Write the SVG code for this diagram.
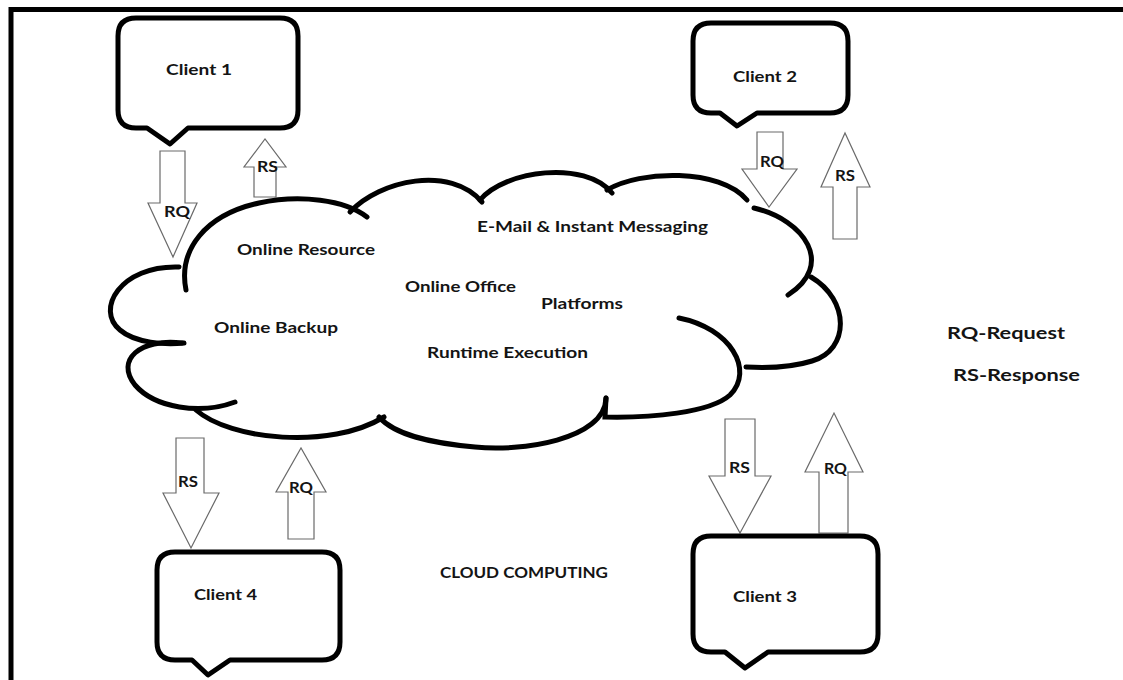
<svg xmlns="http://www.w3.org/2000/svg" width="1123" height="680" viewBox="0 0 1123 680">
<style>
.bg{fill:#fff}
.frame{stroke:#000;stroke-width:5;fill:none}
.callout{fill:#fff;stroke:#000;stroke-width:5;stroke-linejoin:round}
.arrow{fill:#fff;stroke:#6a6a6a;stroke-width:1.2;stroke-linejoin:miter}
.cloud{fill:none;stroke:#000;stroke-width:5;stroke-linecap:round}
text{font-family:Lato,"Liberation Sans",sans-serif;font-weight:bold;fill:#141414}
.t{font-size:16px}
.c{font-size:15px}
.a{font-size:15px}
.l{font-size:17px}
</style>
<rect class="bg" x="0" y="0" width="1123" height="680"/>
<g id="frame">
<line class="frame" x1="11" y1="9.5" x2="1123" y2="9.5"/>
<line class="frame" x1="11" y1="7" x2="11" y2="680"/>
</g>
<g id="connectors">
<g id="c1-rq"><path class="arrow" d="M160,151 H185 V203 H197 L173,257 L148,203 H160 Z"/><text class="a" x="164" y="217" textLength="26" lengthAdjust="spacingAndGlyphs">RQ</text></g>
<g id="c1-rs"><path class="arrow" d="M254,197 V167 H244 L265,139 L286,167 H276 V197 Z"/><text class="a" x="257" y="172" textLength="21" lengthAdjust="spacingAndGlyphs">RS</text></g>
<g id="c2-rq"><path class="arrow" d="M757,132 H783 V169 H797 L769,207 L742,169 H757 Z"/><text class="a" x="760" y="167" textLength="24" lengthAdjust="spacingAndGlyphs">RQ</text></g>
<g id="c2-rs"><path class="arrow" d="M833,239 V187 H821 L845,133 L870,187 H857 V239 Z"/><text class="a" x="835" y="181" textLength="20" lengthAdjust="spacingAndGlyphs">RS</text></g>
<g id="c4-rs"><path class="arrow" d="M176,438 H204 V493 H219 L191,548 L163,493 H176 Z"/><text class="a" x="178" y="487" textLength="20" lengthAdjust="spacingAndGlyphs">RS</text></g>
<g id="c4-rq"><path class="arrow" d="M288,539 V492 H276 L301,448 L326,492 H314 V539 Z"/><text class="a" x="289" y="493" textLength="24" lengthAdjust="spacingAndGlyphs">RQ</text></g>
<g id="c3-rs"><path class="arrow" d="M725,419 H755 V476 H771 L740,533 L709,476 H725 Z"/><text class="a" x="729" y="473" textLength="21" lengthAdjust="spacingAndGlyphs">RS</text></g>
<g id="c3-rq"><path class="arrow" d="M819,533 V472 H805 L834,413 L863,472 H848 V533 Z"/><text class="a" x="824" y="474" textLength="23" lengthAdjust="spacingAndGlyphs">RQ</text></g>
</g>
<g id="cloud">
<path class="cloud" d="M186,290 C178,250 205,215 259,203 C300,194 345,200 367,217"/>
<path class="cloud" d="M350,212 C380,180 450,165 482,202"/>
<path class="cloud" d="M480,200 C505,170 585,160 612,193"/>
<path class="cloud" d="M607,190 C640,170 720,168 747,200"/>
<path class="cloud" d="M754,208 C805,220 835,265 788,295"/>
<path class="cloud" d="M811,277 C850,300 850,350 812,361 C790,368 765,368 746,367"/>
<path class="cloud" d="M679,318 C730,328 755,370 730,395 C710,413 650,418 605,417 L606,398"/>
<path class="cloud" d="M606,398 C605,440 520,452 475,447 C430,443 395,435 379,417"/>
<path class="cloud" d="M196,410 C230,440 330,450 384,417"/>
<path class="cloud" d="M182,343 C140,338 115,360 135,385 C155,408 200,415 235,402"/>
<path class="cloud" d="M179,267 C120,265 95,310 120,330 C135,343 165,345 184,343"/>
<text class="c" x="477" y="232" textLength="231" lengthAdjust="spacingAndGlyphs">E-Mail &amp; Instant Messaging</text>
<text class="c" x="237" y="255" textLength="138" lengthAdjust="spacingAndGlyphs">Online Resource</text>
<text class="c" x="405" y="292" textLength="111" lengthAdjust="spacingAndGlyphs">Online Office</text>
<text class="c" x="541" y="309" textLength="82" lengthAdjust="spacingAndGlyphs">Platforms</text>
<text class="c" x="214" y="333" textLength="124" lengthAdjust="spacingAndGlyphs">Online Backup</text>
<text class="c" x="427" y="358" textLength="161" lengthAdjust="spacingAndGlyphs">Runtime Execution</text>
</g>
<g id="client1">
<path class="callout" d="M136,18 H280 Q298,18 298,36 V110 Q298,128 280,128 H188 L170,144 L147,128 H136 Q118,128 118,110 V36 Q118,18 136,18 Z"/>
<text class="t" x="166" y="75" textLength="66" lengthAdjust="spacingAndGlyphs">Client 1</text>
</g>
<g id="client2">
<path class="callout" d="M711,23 H830 Q848,23 848,41 V95 Q848,113 830,113 H757 L737,126 L720,113 H711 Q693,113 693,95 V41 Q693,23 711,23 Z"/>
<text class="t" x="733" y="82" textLength="64" lengthAdjust="spacingAndGlyphs">Client 2</text>
</g>
<g id="client3">
<path class="callout" d="M711,536 H860 Q878,536 878,554 V634 Q878,652 860,652 H768 L745,668 L725,652 H711 Q693,652 693,634 V554 Q693,536 711,536 Z"/>
<text class="t" x="733" y="602" textLength="64" lengthAdjust="spacingAndGlyphs">Client 3</text>
</g>
<g id="client4">
<path class="callout" d="M175,552 H322 Q340,552 340,570 V642 Q340,660 322,660 H230 L208,675 L192,660 H175 Q157,660 157,642 V570 Q157,552 175,552 Z"/>
<text class="t" x="194" y="600" textLength="63" lengthAdjust="spacingAndGlyphs">Client 4</text>
</g>
<g id="title">
<text class="c" x="440" y="578" textLength="168" lengthAdjust="spacingAndGlyphs">CLOUD COMPUTING</text>
</g>
<g id="legend">
<text class="l" x="947" y="339" textLength="118" lengthAdjust="spacingAndGlyphs">RQ-Request</text>
<text class="l" x="953" y="381" textLength="127" lengthAdjust="spacingAndGlyphs">RS-Response</text>
</g>
</svg>
